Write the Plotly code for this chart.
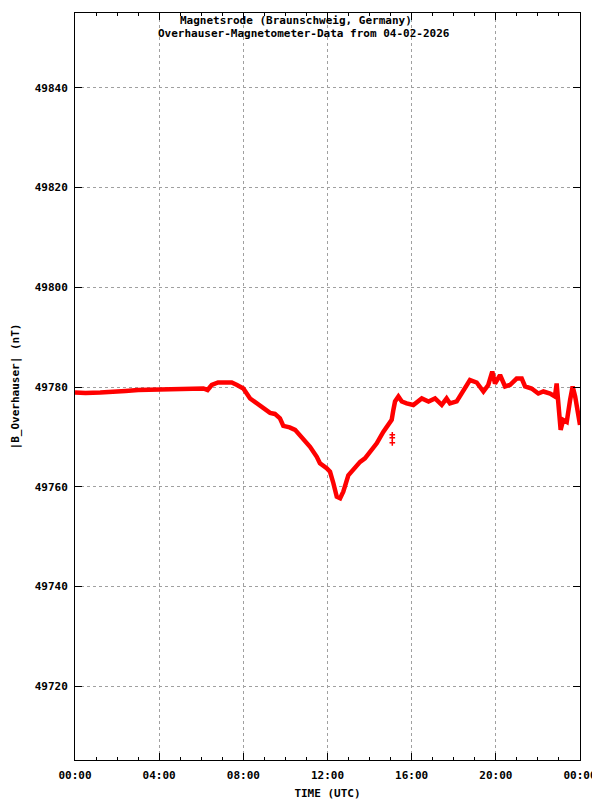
import plotly.graph_objects as go

# time in hours (UTC) and total field in nT
hours = [0.0, 0.5, 1.2, 2.0, 2.4, 3.0, 3.95, 4.8, 5.55, 6.1, 6.3, 6.5, 6.8, 7.1, 7.45, 7.7,
         8.0, 8.32, 8.64, 8.95, 9.27, 9.5, 9.74, 9.9, 10.2, 10.46, 10.85, 11.17, 11.49, 11.64,
         11.96, 12.12, 12.28, 12.44, 12.6, 12.75, 12.99, 13.31, 13.55, 13.78, 14.02, 14.34,
         14.65, 14.89, 15.05, 15.13, 15.21, 15.37, 15.53, 15.76, 16.08, 16.48, 16.8, 17.11,
         17.43, 17.66, 17.82, 18.14, 18.46, 18.77, 19.09, 19.41, 19.64, 19.83, 19.96, 20.2,
         20.44, 20.67, 20.99, 21.23, 21.39, 21.7, 22.02, 22.26, 22.58, 22.81, 22.89, 22.97,
         23.08, 23.2, 23.37, 23.53, 23.65, 23.77, 23.88, 24.0]
field = [49778.9, 49778.8, 49778.9, 49779.0, 49779.2, 49779.4, 49779.5, 49779.6, 49779.7,
         49779.7, 49779.4, 49780.4, 49780.9, 49780.9, 49780.9, 49780.4, 49779.7, 49777.7,
         49776.7, 49776.0, 49774.8, 49774.6, 49773.7, 49772.2, 49771.9, 49771.4, 49769.7,
         49768.0, 49766.0, 49764.7, 49763.7, 49763.0, 49760.7, 49758.0, 49757.7, 49759.0,
         49762.3, 49764.0, 49765.0, 49765.7, 49767.0, 49768.7, 49771.0, 49772.7, 49773.4,
         49775.4, 49777.1, 49778.1, 49777.1, 49776.7, 49776.4, 49777.7, 49777.1, 49777.7,
         49776.4, 49777.7, 49776.7, 49777.1, 49779.1, 49781.4, 49780.9, 49779.1, 49780.4,
         49783.1, 49780.7, 49782.4, 49780.1, 49780.4, 49781.7, 49781.7, 49780.1, 49779.7,
         49778.7, 49779.1, 49778.7, 49778.1, 49780.7, 49775.4, 49771.4, 49773.4, 49773.0,
         49777.4, 49780.1, 49778.1, 49774.7, 49772.4]

# isolated outlier samples
outlier_hours = [15.08, 15.08, 15.08]
outlier_field = [49770.4, 49769.8, 49768.8]

x_tickvals = [0, 4, 8, 12, 16, 20, 24]
x_ticktext = ["00:00", "04:00", "08:00", "12:00", "16:00", "20:00", "00:00"]
y_tickvals = [49720, 49740, 49760, 49780, 49800, 49820, 49840]
y_ticktext = ["49720", "49740", "49760", "49780", "49800", "49820", "49840"]

FONT = dict(family="DejaVu Sans Mono", size=11, color="black", weight="bold")

fig = go.Figure()
fig.add_trace(go.Scatter(x=hours, y=field, mode="lines",
                         line=dict(color="#ff0000", width=4.5), showlegend=False))
fig.add_trace(go.Scatter(x=outlier_hours, y=outlier_field, mode="markers",
                         marker=dict(symbol="cross-thin", size=4,
                                     line=dict(color="#ff0000", width=1.5)),
                         showlegend=False))

fig.update_layout(
    width=592, height=792,
    margin=dict(l=67, r=20, t=5, b=40),
    plot_bgcolor="white", paper_bgcolor="white",
    font=FONT,
    showlegend=False,
)
fig.update_xaxes(range=[0, 24], tickvals=x_tickvals, ticktext=x_ticktext,
                 showline=True, linecolor="black", linewidth=1, mirror="ticks",
                 ticks="inside", ticklen=7, tickcolor="black", automargin=False,
                 showgrid=True, gridcolor="#a0a0a0", griddash="dot", gridwidth=1,
                 minor=dict(dtick=1, tick0=0, ticks="inside", ticklen=3,
                            tickcolor="black", showgrid=False),
                 zeroline=False, tickfont=FONT, ticklabelstandoff=5,
                 title=dict(text="TIME (UTC)", font=FONT, standoff=8))
fig.update_yaxes(range=[49705.2, 49855.0], tickvals=y_tickvals, ticktext=y_ticktext,
                 showline=True, linecolor="black", linewidth=1, mirror="ticks",
                 ticks="inside", ticklen=7, tickcolor="black", automargin=False,
                 showgrid=True, gridcolor="#a0a0a0", griddash="dot", gridwidth=1,
                 zeroline=False, tickfont=FONT, ticklabelstandoff=4,
                 title=dict(text="|B_Overhauser| (nT)", font=FONT, standoff=12))

fig.add_annotation(x=0.437, y=1.0014, xref="paper", yref="paper", showarrow=False,
                   text="Magnetsrode (Braunschweig, Germany)", font=FONT,
                   xanchor="center", yanchor="top")
fig.add_annotation(x=0.453, y=0.9844, xref="paper", yref="paper", showarrow=False,
                   text="Overhauser-Magnetometer-Data from 04-02-2026", font=FONT,
                   xanchor="center", yanchor="top")

fig.write_html("out.html")
